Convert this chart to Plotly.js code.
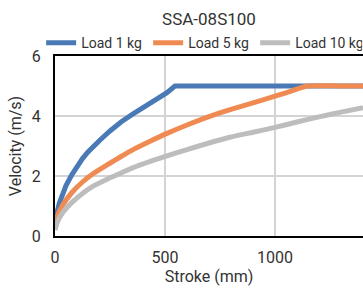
<!DOCTYPE html>
<html>
<head>
<meta charset="utf-8">
<script src="https://cdn.plot.ly/plotly-3.0.1.min.js"></script>
<style>html,body{margin:0;padding:0;background:#fff;}#chart{width:363px;height:290px;}</style>
</head>
<body>
<div id="chart"></div>
<script>
const chartTitle = "SSA-08S100";
const seriesNames = ["Load 1 kg", "Load 5 kg", "Load 10 kg"];
const seriesColors = ["#4a7ab6", "#ef8b52", "#bdbdbd"];

const stroke1 = [0, 5, 10, 20, 32, 50, 77, 100, 125, 150, 168, 205, 250, 300, 355, 400, 450, 509, 545, 800, 1100, 1400];
const vel1    = [0.3, 0.6, 0.82, 1.1, 1.35, 1.68, 2.05, 2.32, 2.58, 2.8, 2.95, 3.2, 3.5, 3.8, 4.07, 4.28, 4.52, 4.78, 5.0, 5.0, 5.0, 5.0];

const stroke5 = [0, 10, 32, 77, 125, 168, 244, 300, 355, 430, 509, 600, 700, 800, 900, 1000, 1070, 1145, 1300, 1400];
const vel5    = [0.3, 0.65, 1.0, 1.45, 1.8, 2.05, 2.4, 2.65, 2.88, 3.15, 3.42, 3.7, 3.98, 4.22, 4.44, 4.66, 4.82, 5.0, 5.0, 5.0];

const stroke10 = [0, 10, 32, 77, 125, 168, 244, 300, 355, 430, 509, 600, 700, 800, 900, 1000, 1100, 1200, 1300, 1400];
const vel10    = [0.2, 0.45, 0.75, 1.12, 1.42, 1.64, 1.92, 2.1, 2.28, 2.48, 2.67, 2.88, 3.1, 3.3, 3.46, 3.62, 3.8, 3.97, 4.13, 4.28];

const xs = [stroke1, stroke5, stroke10];
const ys = [vel1, vel5, vel10];

const traces = xs.map((x, i) => ({
  x: x, y: ys[i], type: "scatter", mode: "lines", name: seriesNames[i],
  line: {color: seriesColors[i], width: 5, shape: "spline", smoothing: 0.6}
}));
traces[0].line.shape = "linear";

const font = "Roboto, 'DejaVu Sans', sans-serif";
const txt = "#333333";
const layout = {
  width: 363, height: 290,
  margin: {l: 55, r: 0, t: 56, b: 54},
  paper_bgcolor: "#ffffff", plot_bgcolor: "#ffffff",
  font: {family: font, size: 16, color: txt},
  title: {text: chartTitle, x: 0.5, xref: "paper", xanchor: "center", y: 0.935, yref: "container", yanchor: "middle", font: {size: 17, color: txt, family: font}},
  showlegend: true,
  legend: {orientation: "h", x: -0.045, xanchor: "left", y: 1.072, yanchor: "middle", font: {size: 14, color: txt}, entrywidth: 62, entrywidthmode: "pixels", itemwidth: 30, tracegroupgap: 0, bgcolor: "rgba(0,0,0,0)"},
  xaxis: {
    range: [0, 1400], tickvals: [0, 500, 1000], ticktext: ["0", "500", "1000"],
    showgrid: true, gridcolor: "#d4d4d4", gridwidth: 1.5, zeroline: false,
    showline: true, linecolor: "#000000", linewidth: 2, mirror: true,
    ticks: "", ticklabelstandoff: 6, tickfont: {size: 16, color: txt},
    title: {text: "Stroke (mm)", font: {size: 16, color: txt}, standoff: 2}
  },
  yaxis: {
    range: [0, 6], tickvals: [0, 2, 4, 6], ticktext: ["0", "2", "4", "6"],
    showgrid: true, gridcolor: "#d4d4d4", gridwidth: 1.5, zeroline: false,
    showline: true, linecolor: "#000000", linewidth: 2, mirror: true,
    ticks: "", ticklabelstandoff: 9, tickfont: {size: 16, color: txt},
    title: {text: "Velocity (m/s)", font: {size: 16, color: txt}, standoff: 6}
  }
};
Plotly.newPlot("chart", traces, layout, {staticPlot: true, displayModeBar: false});
</script>
</body>
</html>
